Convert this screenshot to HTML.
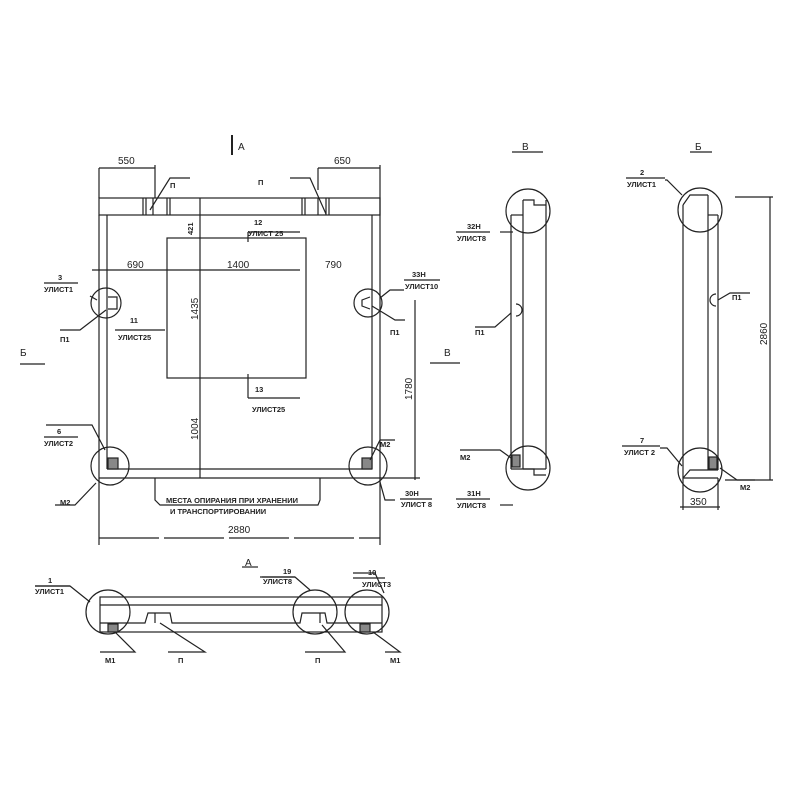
<!DOCTYPE html>
<html><head><meta charset="utf-8"><style>
html,body{margin:0;padding:0;background:#fff}
svg{display:block}
text{font-family:"Liberation Sans","DejaVu Sans",sans-serif;fill:#222;font-size:10px}
.s{font-size:7.5px;font-weight:bold}
</style></head><body>
<svg width="800" height="800" viewBox="0 0 800 800" xmlns="http://www.w3.org/2000/svg">
<g stroke="#222" stroke-width="1.2" fill="none">
<!-- main plan -->
<rect x="99" y="198" width="281" height="17"/>
<line x1="99" y1="215" x2="99" y2="478"/>
<line x1="107" y1="215" x2="107" y2="469"/>
<line x1="380" y1="198" x2="380" y2="478"/>
<line x1="372" y1="215" x2="372" y2="469"/>
<line x1="107" y1="469" x2="372" y2="469"/>
<line x1="99" y1="478" x2="380" y2="478"/>
<line x1="143" y1="198" x2="143" y2="215"/><line x1="146" y1="198" x2="146" y2="215"/>
<line x1="153" y1="198" x2="153" y2="215"/><line x1="167" y1="198" x2="167" y2="215"/><line x1="170" y1="198" x2="170" y2="215"/>
<line x1="302" y1="198" x2="302" y2="215"/><line x1="305" y1="198" x2="305" y2="215"/>
<line x1="318" y1="198" x2="318" y2="215"/><line x1="326" y1="198" x2="326" y2="215"/><line x1="329" y1="198" x2="329" y2="215"/>
<rect x="167" y="238" width="139" height="140"/>
<line x1="200" y1="198" x2="200" y2="478"/>
<!-- dims -->
<line x1="92" y1="270" x2="300" y2="270"/>
<line x1="99" y1="168" x2="99" y2="198"/><line x1="99" y1="168" x2="155" y2="168"/><line x1="155" y1="165" x2="155" y2="198"/>
<line x1="318" y1="168" x2="380" y2="168"/><line x1="318" y1="168" x2="318" y2="190"/><line x1="380" y1="165" x2="380" y2="198"/>
<line x1="99" y1="478" x2="99" y2="545"/><line x1="380" y1="478" x2="380" y2="545"/>
<line x1="99" y1="538" x2="380" y2="538" stroke-dasharray="60 5"/>
<line x1="415" y1="300" x2="415" y2="480"/><line x1="380" y1="478" x2="420" y2="478"/>
<!-- leaders -->
<polyline points="150,210 170,178 190,178"/><polyline points="326,214 310,178 290,178"/>
<polyline points="155,478 155,500 160,505 318,505 320,500 320,478"/>
<line x1="248" y1="232" x2="248" y2="242"/><line x1="248" y1="232" x2="300" y2="232"/>
<line x1="248" y1="374" x2="248" y2="398"/><line x1="248" y1="398" x2="300" y2="398"/>
<line x1="115" y1="330" x2="165" y2="330"/>
<!-- fraction lines -->
<line x1="44" y1="283" x2="78" y2="283"/><line x1="44" y1="437" x2="78" y2="437"/>
<line x1="404" y1="280" x2="440" y2="280"/><line x1="400" y1="499" x2="432" y2="499"/>
<line x1="456" y1="232" x2="490" y2="232"/><line x1="456" y1="499" x2="490" y2="499"/>
<line x1="626" y1="178" x2="665" y2="178"/><line x1="622" y1="446" x2="660" y2="446"/>
<line x1="35" y1="586" x2="70" y2="586"/><line x1="262" y1="577" x2="295" y2="577"/><line x1="353" y1="578" x2="385" y2="578"/>
<!-- circles -->
<circle cx="106" cy="303" r="15"/><circle cx="368" cy="303" r="14"/>
<circle cx="110" cy="466" r="19"/><circle cx="368" cy="466" r="19"/>
<polyline points="108,297 117,297 117,309 108,309"/>
<polyline points="370,297 362,300 362,306 370,309"/>
<rect x="108" y="458" width="10" height="11" fill="#888"/><rect x="362" y="458" width="10" height="11" fill="#888"/>
<polyline points="90,296 97,300"/><polyline points="60,330 80,330 106,310"/>
<polyline points="46,425 92,425 105,450"/><polyline points="55,505 75,505 96,483"/>
<polyline points="404,290 390,290 380,298"/><polyline points="405,320 395,320 372,306"/>
<polyline points="395,440 380,440 370,460"/><polyline points="395,500 385,500 380,482"/>
<!-- arrows -->
<line x1="20" y1="364" x2="45" y2="364"/><line x1="430" y1="363" x2="460" y2="363"/>
<line x1="232" y1="135" x2="232" y2="155" stroke-width="2"/>
<!-- view B -->
<line x1="511" y1="215" x2="511" y2="469"/><line x1="523" y1="200" x2="523" y2="469"/><line x1="546" y1="200" x2="546" y2="469"/>
<polyline points="511,215 523,215"/>
<polyline points="523,200 534,200 534,205 546,205"/>
<line x1="511" y1="469" x2="546" y2="469"/>
<polyline points="523,469 534,469 534,475 546,475"/>
<circle cx="528" cy="211" r="22"/><circle cx="528" cy="468" r="22"/>
<rect x="512" y="455" width="8" height="12" fill="#888"/>
<path d="M516 304 a6 6 0 0 1 0 12"/>
<line x1="513" y1="232" x2="500" y2="232"/><line x1="513" y1="505" x2="500" y2="505"/>
<polyline points="475,327 495,327 511,313"/><polyline points="460,450 500,450 511,458"/>
<line x1="512" y1="152" x2="543" y2="152"/>
<!-- view Б -->
<line x1="683" y1="205" x2="683" y2="478"/><line x1="708" y1="195" x2="708" y2="470"/><line x1="718" y1="215" x2="718" y2="470"/>
<polyline points="683,205 690,195 708,195"/>
<line x1="708" y1="215" x2="718" y2="215"/>
<polyline points="683,478 690,470 708,470"/>
<line x1="708" y1="470" x2="718" y2="470"/><line x1="683" y1="478" x2="718" y2="478"/>
<circle cx="700" cy="210" r="22"/><circle cx="700" cy="470" r="22"/>
<rect x="709" y="457" width="8" height="12" fill="#888"/>
<path d="M716 294 a6 6 0 0 0 0 12"/>
<line x1="770" y1="197" x2="770" y2="480"/><line x1="735" y1="197" x2="773" y2="197"/><line x1="725" y1="480" x2="773" y2="480"/>
<line x1="683" y1="478" x2="683" y2="510"/><line x1="718" y1="478" x2="718" y2="510"/><line x1="680" y1="507" x2="720" y2="507"/>
<polyline points="665,180 667,180 682,195"/><polyline points="660,448 667,448 682,466"/><polyline points="755,480 737,480 720,468"/>
<polyline points="750,293 730,293 718,300"/>
<line x1="690" y1="152" x2="712" y2="152"/>
<!-- view A -->
<rect x="100" y="597" width="282" height="35"/>
<line x1="100" y1="605" x2="382" y2="605"/>
<polyline points="100,623 145,623 148,613 170,613 172,623 300,623 302,613 325,613 327,623 382,623"/>
<line x1="155" y1="613" x2="155" y2="623"/><line x1="320" y1="613" x2="320" y2="623"/>
<circle cx="108" cy="612" r="22"/><circle cx="315" cy="612" r="22"/><circle cx="367" cy="612" r="22"/>
<rect x="108" y="624" width="10" height="8" fill="#888"/><rect x="360" y="624" width="10" height="8" fill="#888"/>
<polyline points="35,586 70,586 90,602"/><polyline points="260,577 295,577 310,590"/><polyline points="353,573 375,573 384,593"/>
<polyline points="100,652 135,652 115,632"/><polyline points="168,652 205,652 160,623"/><polyline points="305,652 345,652 322,625"/><polyline points="385,652 400,652 373,632"/>
<line x1="242" y1="567" x2="258" y2="567"/>
</g>
<g>
<text x="118" y="164">550</text><text x="334" y="164">650</text>
<text x="238" y="150" font-size="11">A</text>
<text x="170" y="188" class="s">П</text><text x="258" y="185" class="s">П</text>
<text x="254" y="225" class="s">12</text><text x="248" y="236" class="s">УЛИСТ 25</text>
<text x="193" y="235" transform="rotate(-90 193 235)" class="s">421</text>
<text x="127" y="268">690</text><text x="227" y="268">1400</text><text x="325" y="268">790</text>
<text x="198" y="320" transform="rotate(-90 198 320)">1435</text>
<text x="198" y="440" transform="rotate(-90 198 440)">1004</text>
<text x="58" y="280" class="s">3</text><text x="44" y="292" class="s">УЛИСТ1</text>
<text x="60" y="342" class="s">П1</text>
<text x="130" y="323" class="s">11</text><text x="118" y="340" class="s">УЛИСТ25</text>
<text x="255" y="392" class="s">13</text><text x="252" y="412" class="s">УЛИСТ25</text>
<text x="412" y="277" class="s">33Н</text><text x="405" y="289" class="s">УЛИСТ10</text>
<text x="390" y="335" class="s">П1</text>
<text x="20" y="356">Б</text><text x="444" y="356">В</text>
<text x="412" y="400" transform="rotate(-90 412 400)">1780</text>
<text x="57" y="434" class="s">6</text><text x="44" y="446" class="s">УЛИСТ2</text>
<text x="60" y="505" class="s">М2</text><text x="380" y="447" class="s">М2</text>
<text x="405" y="496" class="s">30Н</text><text x="401" y="507" class="s">УЛИСТ 8</text>
<text x="166" y="503" class="s">МЕСТА ОПИРАНИЯ ПРИ ХРАНЕНИИ</text>
<text x="170" y="514" class="s">И ТРАНСПОРТИРОВАНИИ</text>
<text x="228" y="533">2880</text>
<text x="522" y="150" font-size="10">В</text>
<text x="467" y="229" class="s">32Н</text><text x="457" y="241" class="s">УЛИСТ8</text>
<text x="475" y="335" class="s">П1</text>
<text x="460" y="460" class="s">М2</text>
<text x="467" y="496" class="s">31Н</text><text x="457" y="508" class="s">УЛИСТ8</text>
<text x="695" y="150" font-size="10">Б</text>
<text x="640" y="175" class="s">2</text><text x="627" y="187" class="s">УЛИСТ1</text>
<text x="732" y="300" class="s">П1</text>
<text x="640" y="443" class="s">7</text><text x="624" y="455" class="s">УЛИСТ 2</text>
<text x="740" y="490" class="s">М2</text>
<text x="690" y="505">350</text>
<text x="767" y="345" transform="rotate(-90 767 345)">2860</text>
<text x="245" y="566" font-size="10">А</text>
<text x="48" y="583" class="s">1</text><text x="35" y="594" class="s">УЛИСТ1</text>
<text x="283" y="574" class="s">19</text><text x="263" y="584" class="s">УЛИСТ8</text>
<text x="368" y="575" class="s">10</text><text x="362" y="587" class="s">УЛИСТ3</text>
<text x="105" y="663" class="s">М1</text><text x="178" y="663" class="s">П</text>
<text x="315" y="663" class="s">П</text><text x="390" y="663" class="s">М1</text>
</g>
</svg>
</body></html>
